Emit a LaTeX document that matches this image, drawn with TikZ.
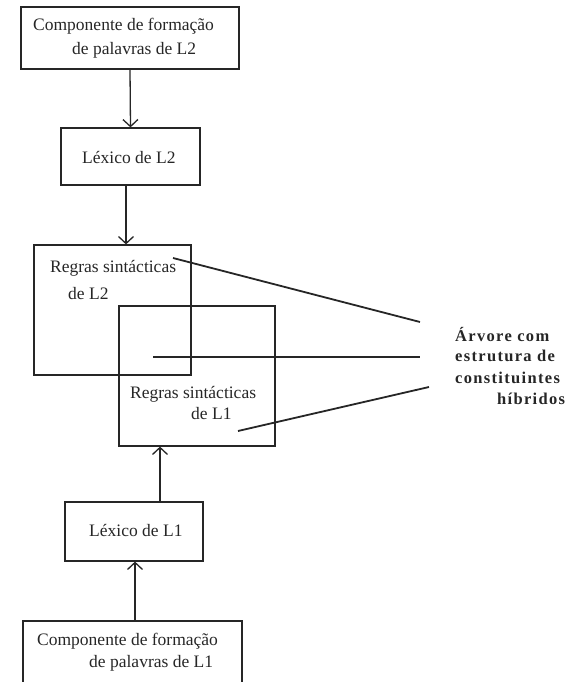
\documentclass[tikz,border=0pt]{standalone}
\usepackage{fontspec}
\setmainfont{Liberation Serif}
\usetikzlibrary{arrows.meta}
\begin{document}
\begin{tikzpicture}[x=1pt,y=-1pt,
  box/.style={draw=black!85,line width=1.2pt,inner sep=0pt},
  txt/.style={font=\fontsize{17.5}{24}\selectfont,inner sep=0pt,anchor=west,text=black!85},
  arr/.style={draw=black!85,line width=1.3pt,-{Straight Barb[length=7pt,width=15pt,line width=1.3pt]}},
  link/.style={draw=black!85,line width=1.8pt},
  lbl/.style={font=\fontsize{16.5}{22}\selectfont\bfseries\addfontfeatures{LetterSpace=8},inner sep=0pt,anchor=west,text=black!85}]
\useasboundingbox (0,0) rectangle (567,682);
\clip (0,0) rectangle (567,682);
% boxes
\node[box,minimum width=218pt,minimum height=62pt] (b1) at (130,38) {};
\node[box,minimum width=139pt,minimum height=57pt] (b2) at (130.5,156.5) {};
\node[box,minimum width=157pt,minimum height=130pt] (b3) at (112.5,310) {};
\node[box,minimum width=156pt,minimum height=140pt] (b4) at (197,376) {};
\node[box,minimum width=138pt,minimum height=59pt] (b5) at (134,531.5) {};
\node[box,minimum width=219pt,minimum height=80pt] (b6) at (132.5,661) {};
% texts
\node[txt] (t1a) at (33,26) {Componente de formação};
\node[txt] (t1b) at (72,50) {de palavras de L2};
\node[txt] (t2) at (82,158) {Léxico de L2};
\node[txt] (t3a) at (50,268) {Regras sintácticas};
\node[txt] (t3b) at (68,294) {de L2};
\node[txt] (t4a) at (130,394) {Regras sintácticas};
\node[txt] (t4b) at (191,414) {de L1};
\node[txt] (t5) at (89,530) {Léxico de L1};
\node[txt] (t6a) at (37,641) {Componente de formação};
\node[txt] (t6b) at (89,663) {de palavras de L1};
% label
\node[lbl] (l1) at (455,334) {Árvore com};
\node[lbl] (l2) at (455,356) {estrutura de};
\node[lbl] (l3) at (455,378) {constituintes};
\node[lbl] (l4) at (497,399) {híbridos};
% arrows
\draw[arr] (b1.south) -- (b2.north);
\draw[arr] ([xshift=-4.5pt]b2.south) -- ([xshift=-4.5pt]b2.south |- b3.north);
\draw[arr] ([xshift=26pt]b5.north) -- ([xshift=26pt]b5.north |- b4.south);
\draw[arr] ([xshift=2.5pt]b6.north) -- ([xshift=2.5pt]b6.north |- b5.south);
% links
\coordinate (p1) at (173,258);
\coordinate (q1) at (420,322);
\coordinate (p2) at (153,357);
\coordinate (q2) at (420,357);
\coordinate (p3) at (238,431);
\coordinate (q3) at (429,387);
\draw[link] (p1) -- (q1);
\draw[link] (p2) -- (q2);
\draw[link] (p3) -- (q3);
\end{tikzpicture}
\end{document}
